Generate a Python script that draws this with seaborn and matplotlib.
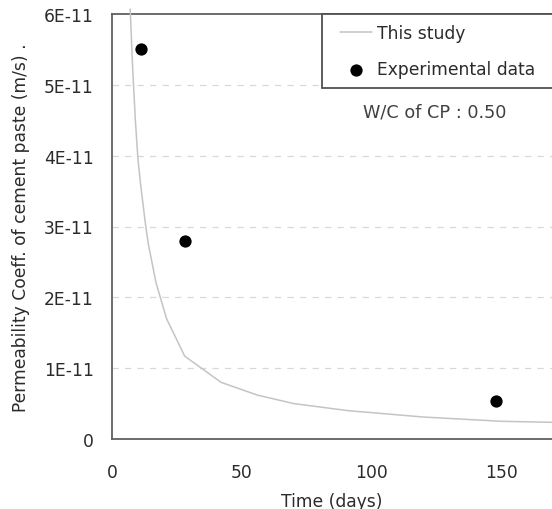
import numpy as np
import pandas as pd
import matplotlib
matplotlib.use("Agg")
import matplotlib.pyplot as plt
from matplotlib.lines import Line2D
from matplotlib.collections import PathCollection
from matplotlib.legend_handler import HandlerLine2D, HandlerPathCollection
import seaborn as sns

# ---- data ----
model_days = [7, 8, 9, 10, 11, 12, 13, 14, 17, 21, 28, 42, 56, 70, 91, 120, 150, 170]
model_perm = [6.07e-11, 5.2e-11, 4.5e-11, 3.95e-11, 3.6e-11, 3.3e-11, 3.0e-11, 2.75e-11,
              2.2e-11, 1.70e-11, 1.17e-11, 0.80e-11, 0.62e-11, 0.50e-11, 0.40e-11,
              0.31e-11, 0.25e-11, 0.235e-11]
exp_days = [11, 28, 148]
exp_perm = [5.5e-11, 2.79e-11, 0.53e-11]

x_ticks = [0, 50, 100, 150]
y_ticks = [0, 1e-11, 2e-11, 3e-11, 4e-11, 5e-11, 6e-11]
y_ticklabels = ["0", "1E-11", "2E-11", "3E-11", "4E-11", "5E-11", "6E-11"]

model_label = "This study"
exp_label = "Experimental data"
annotation = "W/C of CP : 0.50"
x_label = "Time (days)"
y_label = "Permeability Coeff. of cement paste (m/s) ."

df_model = pd.DataFrame({"day": model_days, "perm": model_perm})
df_exp = pd.DataFrame({"day": exp_days, "perm": exp_perm})

sns.set_style("white")
plt.rcParams["font.family"] = ["DejaVu Sans"]

W, H, DPI = 552, 510, 100
fig = plt.figure(figsize=(W / DPI, H / DPI), dpi=DPI)
ax = fig.add_axes([112 / W, 70 / H, 440 / W, 425 / H])

FS = 12.3
TXT = "#2b2b2b"
SP = "#606060"

sns.lineplot(data=df_model, x="day", y="perm", ax=ax, color="#c4c4c4",
             linewidth=1.1, label=model_label, clip_on=False, zorder=3)
sns.scatterplot(data=df_exp, x="day", y="perm", ax=ax, color="black",
                s=78, linewidth=0, label=exp_label, zorder=4)

ax.set_xlim(0, 169.5)
ax.set_ylim(0, 6e-11)
ax.set_xticks(x_ticks)
ax.set_xticklabels([str(t) for t in x_ticks])
ax.set_yticks(y_ticks)
ax.set_yticklabels(y_ticklabels)

for yv in y_ticks[1:-1]:
    ax.axhline(yv, color="#d8d8d8", linewidth=0.9, linestyle=(0, (5, 5)), zorder=1)

ax.tick_params(axis="both", direction="in", length=3, width=0.8, color=SP,
               labelsize=FS, labelcolor=TXT)
ax.tick_params(axis="x", pad=17)
ax.tick_params(axis="y", pad=13)

for side in ["left", "bottom", "top"]:
    ax.spines[side].set_color(SP)
    ax.spines[side].set_linewidth(1.3)
ax.spines["right"].set_visible(False)

ax.set_xlabel(x_label, fontsize=FS, color=TXT, labelpad=8)
ax.set_ylabel(y_label, fontsize=FS, color=TXT, labelpad=10)

XPAD = 0.47
leg = ax.legend(loc="upper left", bbox_to_anchor=((322 - 112) / 440, 0.0, 0.7, 1.0),
                mode="expand", borderaxespad=0, frameon=True, fancybox=False,
                framealpha=1, fontsize=FS, borderpad=0.6, handlelength=2.34,
                handletextpad=0.29, labelspacing=1.05, markerscale=1.0,
                handler_map={Line2D: HandlerLine2D(xpad=XPAD),
                             PathCollection: HandlerPathCollection(xpad=XPAD)})
for t in leg.get_texts():
    t.set_color(TXT)
leg.get_frame().set_edgecolor("#505050")
leg.get_frame().set_linewidth(1.3)

ax.text((363 - 112) / 440, (440 - 113) / 425, annotation, transform=ax.transAxes,
        fontsize=FS * 1.03, color="#404040", va="center", ha="left")

fig.savefig("out.png", dpi=DPI)
